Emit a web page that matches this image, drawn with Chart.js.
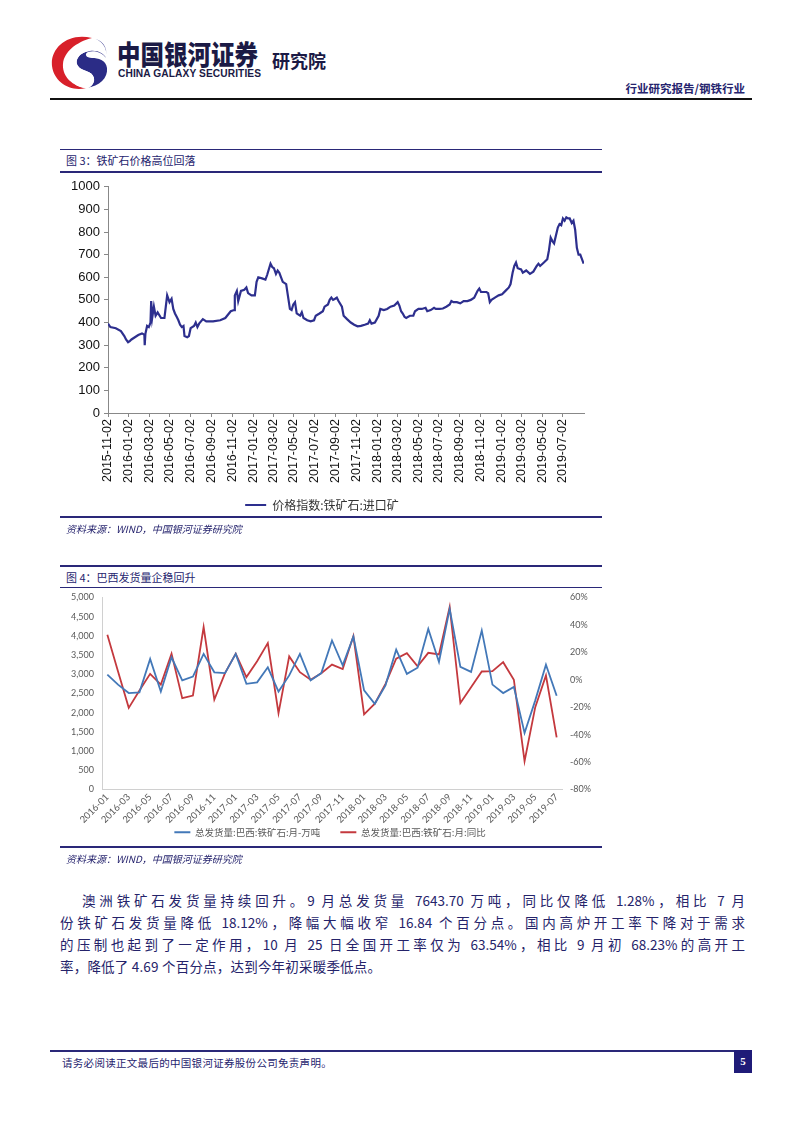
<!DOCTYPE html>
<html><head><meta charset="utf-8">
<script src="https://cdn.jsdelivr.net/npm/chart.js@4.4.1/dist/chart.umd.min.js"></script>
<style>
body{margin:0;background:#fff;width:802px;height:1133px;position:relative;overflow:hidden;font-family:"Noto Sans CJK SC",sans-serif;}
.abs{position:absolute;}
.navy{color:#26246e;}
.bar{position:absolute;left:60px;width:542px;background:#2a2878;}
.ptxt{position:absolute;left:60px;width:685px;font-size:13.5px;color:#25236a;text-align:justify;text-align-last:justify;white-space:nowrap;line-height:16px;}
</style></head>
<body>
<svg class="abs" style="left:48px;top:34px" width="62" height="58" viewBox="0 0 62 58">
  <path d="M44 4 C20 -2 2 14 4 32 C6 48 22 58 38 54 C24 52 14 42 15 30 C16 18 28 8 44 4 Z" fill="#d8202a"/>
  <path d="M44 4 C54 6 60 14 58 24 C56 20 50 16 42 17 C32 18 26 26 30 32 C34 38 44 36 46 44 C47 50 42 54 38 54 C52 52 60 44 59 34 C58 26 50 24 44 24 C38 24 36 20 40 18 C46 16 54 18 58 24 C60 12 54 6 44 4 Z" fill="#2b2c86"/>
  <path d="M42 17 C32 18 26 26 30 32 C34 38 44 36 46 44 C47 50 42 54 38 54 C30 54 22 48 20 40 C24 46 34 48 36 42 C38 36 24 34 24 26 C24 20 32 16 42 17 Z" fill="#ffffff"/>
</svg>
<div class="abs" style="left:117px;top:39px;font-size:23.5px;font-weight:900;color:#1b1a45;line-height:24px;transform:scaleY(1.16);transform-origin:left top;white-space:nowrap;">中国银河证券</div>
<div class="abs" style="left:118px;top:67px;font-family:'Liberation Sans',Arial,sans-serif;font-size:10.5px;line-height:12px;font-weight:bold;color:#1b1a45;transform:scaleX(0.97);transform-origin:left top;letter-spacing:0.1px;white-space:nowrap;">CHINA GALAXY SECURITIES</div>
<div class="abs" style="left:272px;top:49px;font-size:18px;font-weight:bold;color:#1b1a45;line-height:22px;">研究院</div>
<div class="abs navy" style="right:57px;top:80px;font-size:11.5px;font-weight:bold;white-space:nowrap;">行业研究报告/钢铁行业</div>
<div class="abs" style="left:50px;top:98px;width:702px;height:2px;background:#111;"></div>

<div class="bar" style="top:149px;height:1px;"></div>
<div class="abs navy" style="left:66px;top:152px;font-size:11px;line-height:16px;">图 3：铁矿石价格高位回落</div>
<div class="bar" style="top:171px;height:2px;"></div>

<div class="abs" style="left:60px;top:175px;width:542px;height:346px;">
  <canvas id="c1" width="542" height="346"></canvas>
</div>

<div class="bar" style="top:516px;height:2px;"></div>
<div class="abs navy" style="left:66px;top:522px;font-size:10px;font-style:italic;line-height:14px;background:#fff;">资料来源：WIND，中国银河证券研究院</div>

<div class="bar" style="top:565px;height:2px;"></div>
<div class="abs navy" style="left:66px;top:569px;font-size:11px;line-height:16px;">图 4：巴西发货量企稳回升</div>
<div class="bar" style="top:587px;height:1px;"></div>

<div class="abs" style="left:60px;top:584px;width:540px;height:279px;">
  <canvas id="c2" width="540" height="279"></canvas>
</div>

<div class="bar" style="top:846px;height:2px;"></div>
<div class="abs navy" style="left:66px;top:852px;font-size:10px;font-style:italic;line-height:14px;">资料来源：WIND，中国银河证券研究院</div>

<div class="ptxt" style="top:892px;left:82px;width:663px;">澳洲铁矿石发货量持续回升。9 月总发货量 7643.70 万吨，同比仅降低 1.28%，相比 7 月</div>
<div class="ptxt" style="top:914px;">份铁矿石发货量降低 18.12%，降幅大幅收窄 16.84 个百分点。国内高炉开工率下降对于需求</div>
<div class="ptxt" style="top:936px;">的压制也起到了一定作用，10 月 25 日全国开工率仅为 63.54%，相比 9 月初 68.23%的高开工</div>
<div class="ptxt" style="top:958px;text-align-last:left;letter-spacing:0.2px;">率，降低了 4.69 个百分点，达到今年初采暖季低点。</div>

<div class="abs" style="left:50px;top:1050px;width:702px;height:2px;background:#2a2878;"></div>
<div class="abs navy" style="left:62px;top:1055px;font-size:10.5px;letter-spacing:0.3px;line-height:16px;">请务必阅读正文最后的中国银河证券股份公司免责声明。</div>
<div class="abs" style="left:734px;top:1050px;width:18px;height:23px;background:#1f1b78;color:#fff;font-family:'Liberation Serif',serif;font-weight:bold;font-size:11px;text-align:center;line-height:23px;">5</div>

<script>
// ---------- Figure 3: iron ore import price index ----------
const priceStartDate = '2015-11-02';
// days since 2015-11-02
const priceDays = [0,7,23,38,48,53,59,64,69,79,89,100,105,107,108,110,115,120,125,127,130,135,140,146,156,166,174,181,187,192,197,202,207,212,217,222,225,233,238,243,253,258,263,268,279,289,309,330,345,361,371,373,379,383,391,401,407,412,422,432,437,442,453,463,468,478,483,488,494,499,504,509,514,524,529,535,540,545,550,555,565,570,575,586,596,606,611,622,632,637,647,652,657,662,668,673,678,688,693,703,714,724,734,744,755,765,770,775,785,796,801,811,821,831,842,852,857,862,867,872,877,888,898,903,913,923,934,939,949,959,964,975,985,995,1005,1010,1016,1026,1036,1046,1057,1067,1077,1087,1092,1097,1113,1118,1123,1128,1138,1149,1159,1169,1179,1184,1190,1195,1200,1205,1215,1220,1230,1241,1251,1261,1266,1271,1282,1292,1297,1302,1307,1312,1323,1328,1333,1338,1343,1348,1353,1358,1364,1369,1374,1379,1384,1389,1394,1399];
const priceValues = [395,380,375,362,340,325,313,318,325,335,345,352,348,345,300,350,385,380,400,495,420,470,430,445,420,420,520,490,505,460,440,425,410,390,380,385,340,335,340,375,385,400,380,395,415,405,405,410,420,450,455,520,540,495,540,545,555,530,520,520,580,600,595,590,610,660,645,640,615,630,620,600,580,570,520,460,455,480,490,440,430,445,420,410,405,410,430,440,450,470,480,500,510,500,505,510,495,470,430,415,400,390,383,385,390,395,410,395,400,430,460,455,460,470,475,490,475,450,440,425,420,430,430,450,460,460,465,450,455,465,460,460,462,470,480,495,490,490,485,495,495,500,510,540,550,535,535,530,490,500,510,520,525,540,555,570,620,650,665,640,635,620,630,615,625,650,660,650,665,680,720,775,760,750,820,835,830,860,850,865,860,860,840,850,810,730,700,700,680,660];
const priceTickLabels = ['2015-11-02','2016-01-02','2016-03-02','2016-05-02','2016-07-02','2016-09-02','2016-11-02','2017-01-02','2017-03-02','2017-05-02','2017-07-02','2017-09-02','2017-11-02','2018-01-02','2018-03-02','2018-05-02','2018-07-02','2018-09-02','2018-11-02','2019-01-02','2019-03-02','2019-05-02','2019-07-02'];
const priceSeriesName = '价格指数:铁矿石:进口矿';

// ---------- Figure 4: Brazil iron ore shipments ----------
const brazilMonths = ['2016-01','2016-02','2016-03','2016-04','2016-05','2016-06','2016-07','2016-08','2016-09','2016-10','2016-11','2016-12','2017-01','2017-02','2017-03','2017-04','2017-05','2017-06','2017-07','2017-08','2017-09','2017-10','2017-11','2017-12','2018-01','2018-02','2018-03','2018-04','2018-05','2018-06','2018-07','2018-08','2018-09','2018-10','2018-11','2018-12','2019-01','2019-02','2019-03','2019-04','2019-05','2019-06','2019-07'];
const brazilVolume = [2990,2730,2510,2530,3400,2550,3440,2840,2940,3530,3050,3030,3530,2750,2790,3180,2550,2970,3530,2840,3030,3880,3230,3980,2580,2230,2710,3640,3010,3170,4180,3320,4700,3190,3060,4140,2730,2510,2670,1470,2320,3250,2440];
const brazilYoY = [32.8,6,-20.5,-7.8,4.3,-3.5,19,-13.4,-11.5,38.4,-14.4,4.8,19,1.9,13.5,26.7,-24.4,17,5.5,0,4.8,11,7.7,31.8,-25.3,-17.5,-3,15.3,19.4,9.7,19.6,18.4,53,-17,-5.4,6,6.2,12.8,0,-59.4,-20,3.1,-42];
const brazilVolumeName = '总发货量:巴西:铁矿石:月-万吨';
const brazilYoYName = '总发货量:巴西:铁矿石:月:同比';

const START = Date.parse(priceStartDate + 'T00:00:00Z');
const dayOf = s => Math.round((Date.parse(s + 'T00:00:00Z') - START) / 86400000);
const tickDays = priceTickLabels.map(dayOf);

const lineLegend = (chart) => {
  const items = Chart.defaults.plugins.legend.labels.generateLabels(chart);
  items.forEach(it => { it.fillStyle = it.strokeStyle; it.lineWidth = 0; });
  return items;
};
// moves the legend box up by opts.dy pixels after layout
const legendLift = {
  id: 'legendLift',
  afterLayout(chart, args, opts) {
    const l = chart.legend;
    if (l && opts && opts.dy) { l.top -= opts.dy; l.bottom -= opts.dy; }
  }
};

new Chart(document.getElementById('c1'), {
  type: 'line',
  data: { datasets: [{
    label: priceSeriesName,
    data: priceDays.map((d, i) => ({ x: d, y: priceValues[i] })),
    borderColor: '#2d2f8e', backgroundColor: '#2d2f8e',
    borderWidth: 2.2, pointRadius: 0, tension: 0
  }]},
  options: {
    responsive: false, animation: false,
    layout: { padding: { top: 4, right: 18, left: 0, bottom: 0 } },
    plugins: {
      tooltip: { enabled: false },
      legend: { position: 'bottom', labels: {
        boxWidth: 21, boxHeight: 2, padding: 6, color: '#333',
        font: { family: 'Noto Sans CJK SC', size: 12 }, generateLabels: lineLegend } }
    },
    scales: {
      x: {
        type: 'linear', min: 0, max: 1400,
        afterBuildTicks: s => { s.ticks = tickDays.map(v => ({ value: v })); },
        afterFit: s => { s.height = 80; },
        ticks: { autoSkip: false, minRotation: 90, maxRotation: 90, padding: 2,
          callback: (v, i) => priceTickLabels[i],
          color: '#111', font: { family: 'Liberation Sans', size: 12.5 } },
        grid: { drawOnChartArea: false, drawTicks: true, tickLength: 4, color: '#888' },
        border: { color: '#888', width: 1 }
      },
      y: {
        min: 0, max: 1000,
        afterFit: s => { s.width = 48; },
        ticks: { stepSize: 100, padding: 4, color: '#111',
          callback: v => String(v),
          font: { family: 'Liberation Sans', size: 13 } },
        grid: { drawOnChartArea: false, drawTicks: true, tickLength: 4, color: '#888' },
        border: { color: '#888', width: 1 }
      }
    }
  }
});

new Chart(document.getElementById('c2'), {
  type: 'line',
  data: { labels: brazilMonths, datasets: [
    { label: brazilVolumeName, data: brazilVolume, yAxisID: 'y',
      borderColor: '#4378b8', backgroundColor: '#4378b8', borderWidth: 1.8, pointRadius: 0, tension: 0 },
    { label: brazilYoYName, data: brazilYoY, yAxisID: 'y1',
      borderColor: '#c4393e', backgroundColor: '#c4393e', borderWidth: 1.8, pointRadius: 0, tension: 0 }
  ]},
  plugins: [legendLift],
  options: {
    responsive: false, animation: false,
    layout: { padding: { top: 0, right: 0, left: 0, bottom: 0 } },
    plugins: {
      tooltip: { enabled: false },
      legendLift: { dy: 16 },
      legend: { position: 'bottom', labels: {
        boxWidth: 16, boxHeight: 2, padding: 20, color: '#595959',
        font: { family: 'Noto Sans CJK SC', size: 9.5 }, generateLabels: lineLegend } }
    },
    scales: {
      x: {
        offset: true,
        afterFit: s => { s.height = 34; },
        ticks: { autoSkip: false, minRotation: 45, maxRotation: 45, padding: 2,
          callback: (v, i) => (i % 2 === 0 ? brazilMonths[i] : ''),
          color: '#595959', font: { family: 'Lato', size: 9.5 } },
        grid: { drawOnChartArea: false, drawTicks: false },
        border: { color: '#d0d0d0', width: 1 }
      },
      y: {
        position: 'left', min: 0, max: 5000,
        afterFit: s => { s.width = 42; },
        ticks: { stepSize: 500, padding: 8, color: '#595959',
          callback: v => v.toLocaleString('en-US'),
          font: { family: 'Lato', size: 9 } },
        grid: { drawOnChartArea: false, drawTicks: false },
        border: { color: '#d0d0d0', width: 1 }
      },
      y1: {
        position: 'right', min: -80, max: 60,
        afterFit: s => { s.width = 38; },
        ticks: { stepSize: 20, padding: 8, color: '#595959',
          callback: v => v + '%',
          font: { family: 'Lato', size: 9 } },
        grid: { drawOnChartArea: false, drawTicks: false },
        border: { display: false }
      }
    }
  }
});
</script>
</body></html>
